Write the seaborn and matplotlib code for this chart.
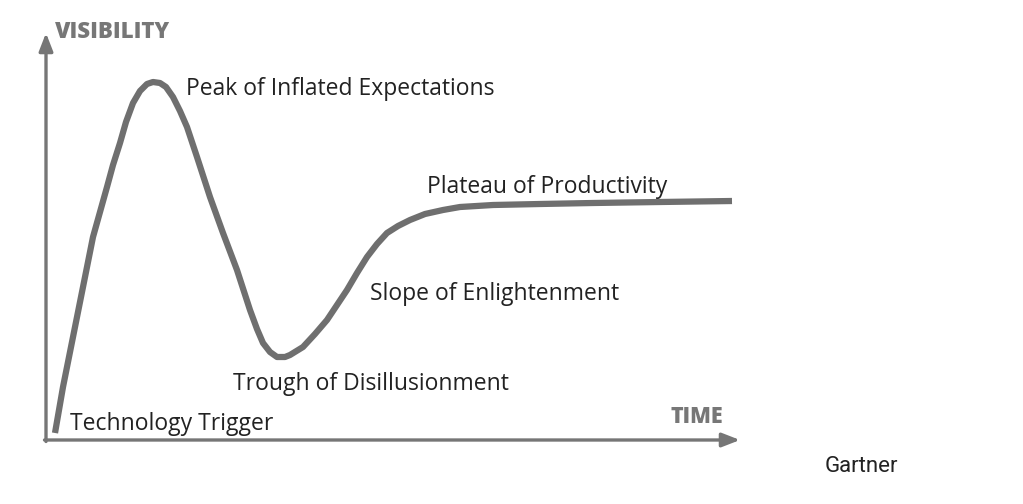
import matplotlib
matplotlib.use("Agg")
import matplotlib.pyplot as plt
import seaborn as sns
import pandas as pd

# Hype-cycle curve (time, visibility), origin at the axes corner
time_vals = [9, 13, 17, 22, 27, 32, 37, 42, 47, 54, 61, 67, 74, 80, 87, 94,
             101, 107, 114, 120, 127, 134, 141, 151, 164, 177, 191, 204, 211,
             217, 224, 231, 239, 244, 257, 269, 281, 291, 301, 311, 321, 331,
             341, 352, 364, 379, 397, 414, 447, 494, 547, 614, 686]
visibility_vals = [7, 30, 53, 78, 103, 128, 153, 178, 203, 228, 253, 275, 297,
                   318, 337, 349, 356, 358, 357, 353, 343, 329, 313, 283, 243,
                   207, 170, 130, 111, 97, 88, 83, 83, 85, 93, 106, 120, 135,
                   150, 167, 183, 196, 207, 214, 220, 226, 230, 233, 235, 236,
                   237, 238, 239]

labels = ["Peak of Inflated Expectations", "Plateau of Productivity",
          "Slope of Enlightenment", "Trough of Disillusionment",
          "Technology Trigger"]
label_time = [140, 381, 324, 187, 24]
label_vis = [351, 253, 146, 56, 16]

sns.set_theme(style="white")
plt.rcParams['font.family'] = ['Open Sans', 'DejaVu Sans']

fig = plt.figure(figsize=(10.23, 5.04), dpi=100)
ax = fig.add_axes([0, 0, 1, 1])
ax.set_xlim(-46, 977)
ax.set_ylim(-64, 440)
ax.axis("off")

df = pd.DataFrame({"time": time_vals, "visibility": visibility_vals})
sns.lineplot(data=df, x="time", y="visibility", ax=ax, color="#6f6f6f",
             linewidth=4.5, sort=False, estimator=None)
ax.lines[0].set_solid_capstyle("butt")
ax.lines[0].set_solid_joinstyle("round")

axis_col = "#767676"
ax.annotate("", xy=(0, 407), xytext=(0, -1.5),
            arrowprops=dict(arrowstyle="-|>,head_length=0.9,head_width=0.35",
                            color=axis_col, lw=2.4, shrinkA=0, shrinkB=0))
ax.annotate("", xy=(694, 0), xytext=(-1.5, 0),
            arrowprops=dict(arrowstyle="-|>,head_length=0.9,head_width=0.35",
                            color=axis_col, lw=2.4, shrinkA=0, shrinkB=0))

ax.text(9, 408, "VISIBILITY", fontsize=16, fontweight=800,
        color="#777777", ha="left", va="center")
ax.text(651, 23, "TIME", fontsize=15.5, fontweight=800,
        color="#777777", ha="center", va="center")

for t, x, y in zip(labels, label_time, label_vis):
    ax.text(x, y, t, fontsize=16.5, color="#222222", ha="left", va="center")

ax.text(779, -26, "Gartner", fontsize=16, color="#222222",
        ha="left", va="center", family=["Roboto", "DejaVu Sans"])

fig.savefig("out.png", dpi=100)
